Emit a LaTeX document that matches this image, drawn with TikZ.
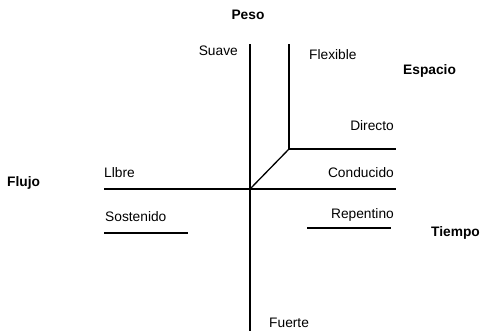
\documentclass[tikz,border=0pt]{standalone}
\usepackage{fontspec}
\setmainfont{Liberation Sans}
\begin{document}
\begin{tikzpicture}[x=1bp,y=-1bp,
  lbl/.style={inner sep=0pt,font=\fontsize{13.8}{16}\selectfont},
  hd/.style={inner sep=0pt,font=\fontsize{13.8}{16}\selectfont\bfseries},
  ln/.style={line width=1.3bp}]
\useasboundingbox (0,0) rectangle (483,331);
% coordinates
\coordinate (vtop) at (250,44);
\coordinate (vbot) at (250,331);
\coordinate (o) at (250,189);
\coordinate (v2top) at (289,44);
\coordinate (k) at (289,149);
\coordinate (kr) at (396,149);
\coordinate (hl) at (104,189);
\coordinate (hr) at (396,189);
\coordinate (sl) at (104,233);
\coordinate (sr) at (188,233);
\coordinate (rl) at (307,228);
\coordinate (rr) at (391,228);
% lines
\draw[ln] (vtop) -- (vbot);
\draw[ln] (hl) -- (hr);
\draw[ln] (v2top) -- (k) -- (kr);
\draw[ln] (o) -- (k);
\draw[ln] (sl) -- (sr);
\draw[ln] (rl) -- (rr);
% labels
\node[hd] (peso) at (248,15) {Peso};
\node[hd,anchor=west] (espacio) at (403,71) {Espacio};
\node[hd,anchor=west] (flujo) at (7,183) {Flujo};
\node[hd,anchor=west] (tiempo) at (431,233) {Tiempo};
\node[lbl,anchor=east] (suave) at (238,51) {Suave};
\node[lbl,anchor=west] (flexible) at (309,55) {Flexible};
\node[lbl,anchor=east] (directo) at (394,126) {Directo};
\node[lbl,anchor=east] (conducido) at (394,173) {Conducido};
\node[lbl,anchor=west] (llbre) at (104,173) {Llbre};
\node[lbl,anchor=west] (sostenido) at (105,217) {Sostenido};
\node[lbl,anchor=east] (repentino) at (394,215) {Repentino};
\node[lbl,anchor=west] (fuerte) at (269,323) {Fuerte};
\end{tikzpicture}
\end{document}
